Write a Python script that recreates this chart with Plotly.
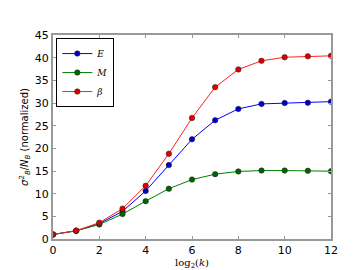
import plotly.graph_objects as go

log2k = [0, 1, 2, 3, 4, 5, 6, 7, 8, 9, 10, 11, 12]
E_vals = [1.0, 1.8, 3.4, 6.1, 10.6, 16.3, 22.0, 26.2, 28.7, 29.8, 30.0, 30.05, 30.3]
M_vals = [1.0, 1.8, 3.2, 5.5, 8.35, 11.1, 13.1, 14.3, 14.9, 15.1, 15.1, 15.05, 14.95]
beta_vals = [1.0, 1.85, 3.6, 6.7, 11.75, 18.8, 26.7, 33.5, 37.4, 39.3, 40.1, 40.3, 40.4]

series = [
    ("<i>E</i>", E_vals, "#0000ff", "#0000c8"),
    ("<i>M</i>", M_vals, "#008000", "#006400"),
    ("<i>β</i>", beta_vals, "#ff2020", "#dd0000"),
]

fig = go.Figure()
for name, vals, lc, mc in series:
    fig.add_trace(go.Scatter(
        x=log2k, y=vals, name=name, mode="lines+markers",
        line=dict(color=lc, width=1),
        marker=dict(color=mc, size=5.5, line=dict(color="#202020", width=0.5)),
    ))

axis_common = dict(
    showgrid=False, zeroline=False, showline=True, linecolor="#999999", linewidth=2,
    mirror="ticks", ticks="inside", ticklen=3, tickcolor="#999999", tickwidth=1,
    tickfont=dict(family="DejaVu Sans", size=11, color="black"),
)

fig.update_layout(
    width=360, height=270,
    margin=dict(l=45, r=37, t=27, b=28),
    paper_bgcolor="white", plot_bgcolor="white",
    showlegend=True,
    legend=dict(
        x=0.012, y=0.985, xanchor="left", yanchor="top",
        bgcolor="white", bordercolor="black", borderwidth=1,
        font=dict(family="DejaVu Serif", size=9, color="black"),
        itemwidth=30, tracegroupgap=0,
    ),
    xaxis=dict(range=[0, 12], tickvals=[0, 2, 4, 6, 8, 10, 12],
               title=dict(text="log<sub>2</sub>(<i>k</i>)", standoff=2,
                          font=dict(family="DejaVu Serif", size=10, color="black")),
               **axis_common),
    yaxis=dict(range=[0, 45], tickvals=[0, 5, 10, 15, 20, 25, 30, 35, 40, 45],
               title=dict(text="<i>σ</i><sup>2</sup><sub><i>B</i></sub>/<i>N</i><sub><i>B</i></sub> (normalized)",
                          standoff=4,
                          font=dict(family="DejaVu Sans", size=10, color="black")),
               **axis_common),
)

fig.write_html("out.html")
